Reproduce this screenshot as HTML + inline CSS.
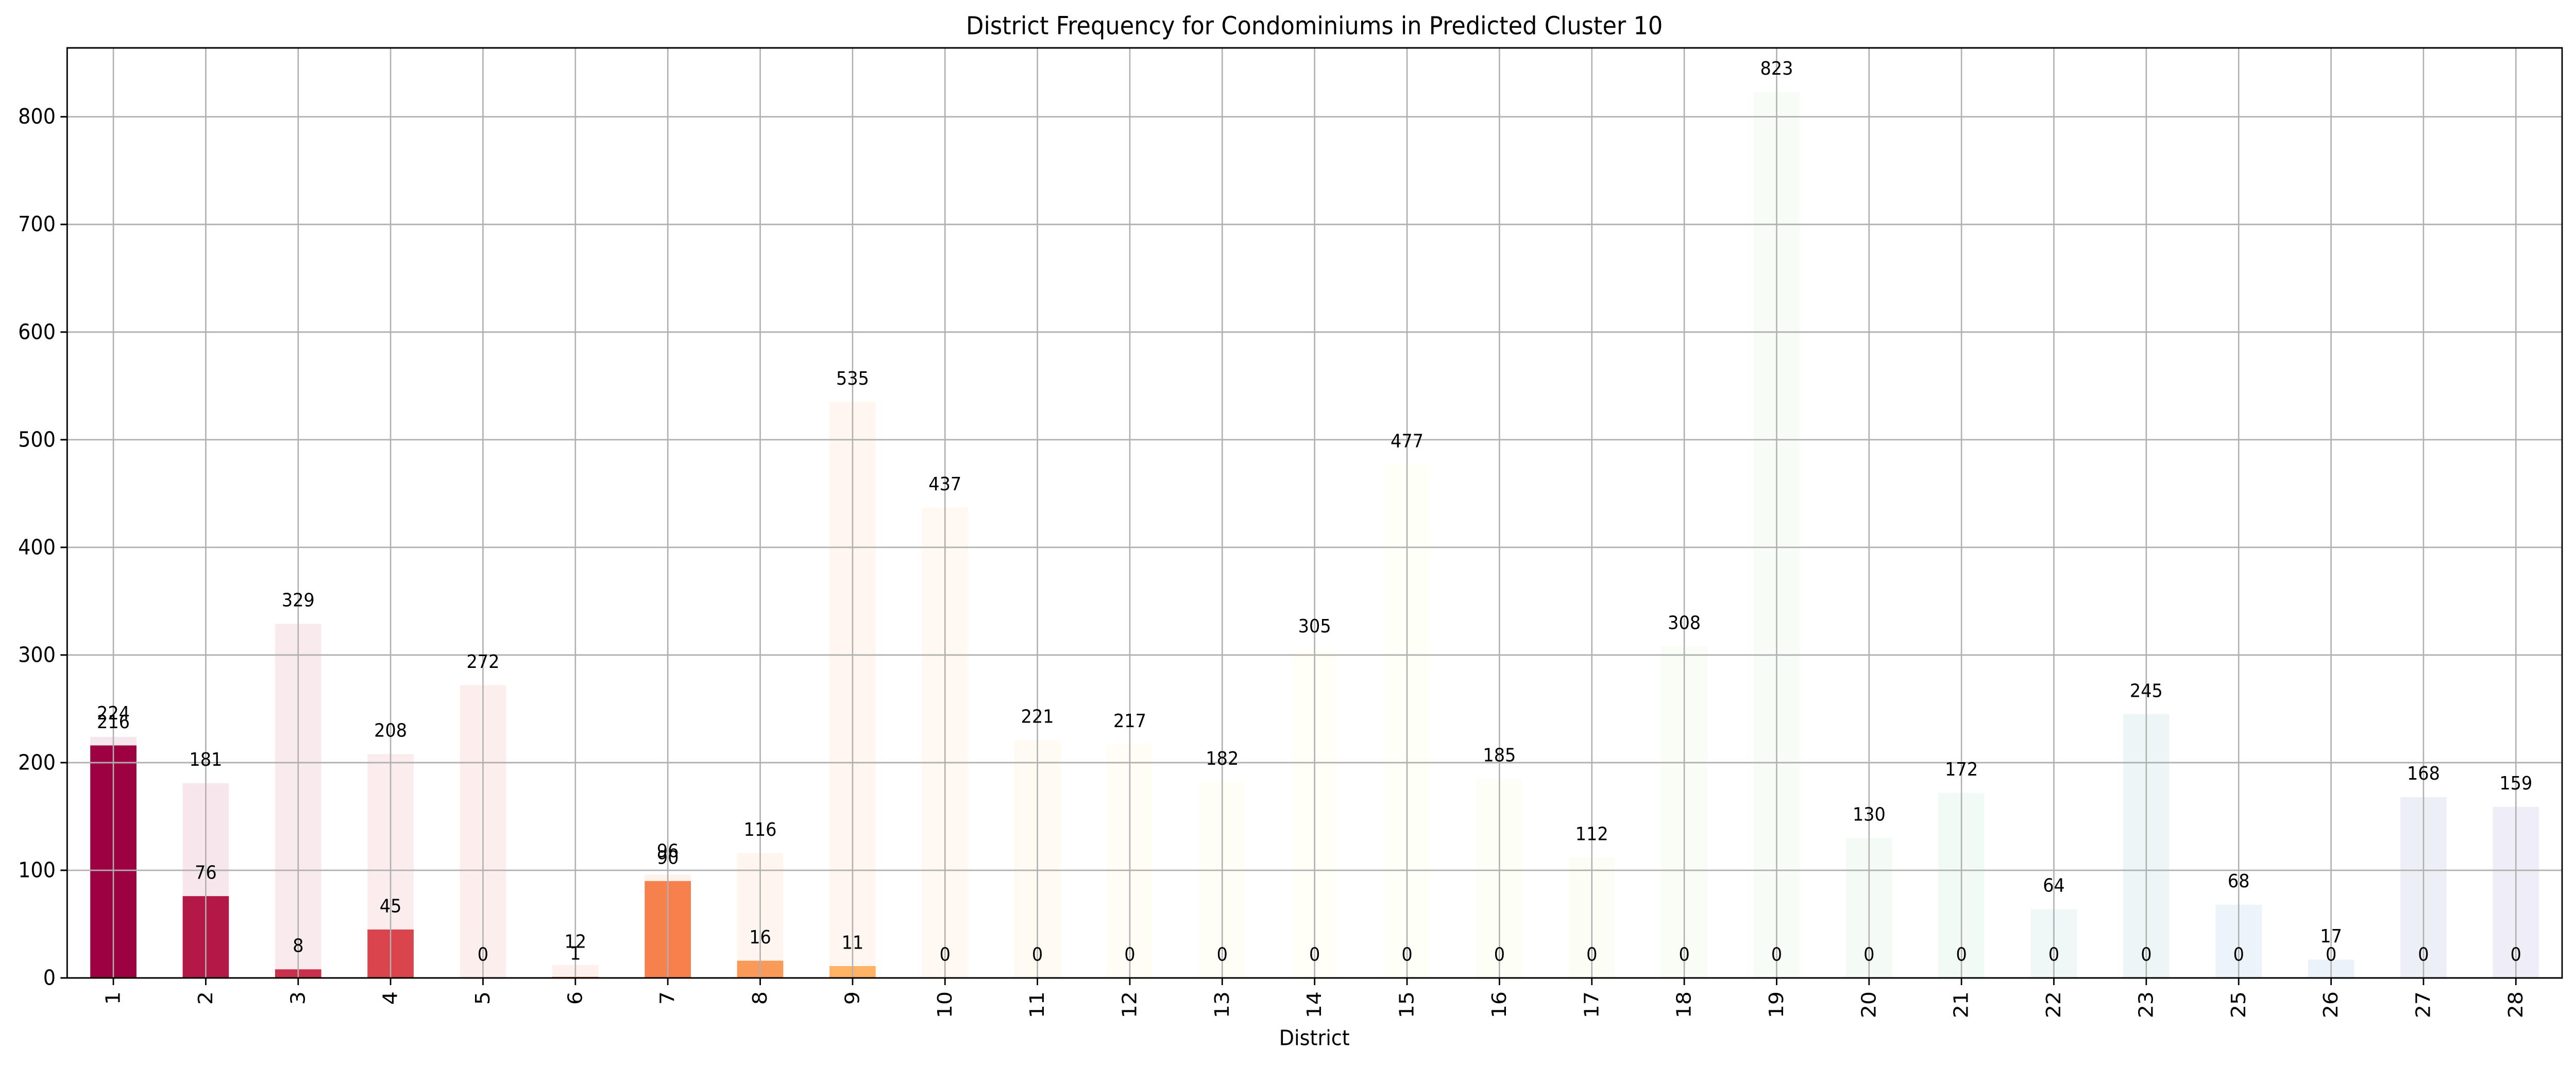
<!DOCTYPE html>
<html><head><meta charset="utf-8"><style>
html,body{margin:0;padding:0;background:#fff;width:100vw;height:100vh;overflow:hidden;}
svg{display:block;width:100vw;height:100vh;font-family:"DejaVu Sans","Liberation Sans",sans-serif;}
</style></head><body>
<svg id="chart" viewBox="0 0 5370 2070" preserveAspectRatio="none" xmlns="http://www.w3.org/2000/svg">
<rect width="5370" height="2070" fill="#fff"/>
<text x="2740" y="50" font-size="48" text-anchor="middle" dominant-baseline="central">District Frequency for Condominiums in Predicted Cluster 10</text>
<text x="2740" y="2016" font-size="41" text-anchor="middle" dominant-baseline="central">District</text>
<g id="bg"></g><g id="fg"></g><g id="grid"></g><g id="labels"></g><g id="axes"></g>
</svg>
<script>
const categories = ["1","2","3","4","5","6","7","8","9","10","11","12","13","14","15","16","17","18","19","20","21","22","23","25","26","27","28"];
const totalValues = [224,181,329,208,272,12,96,116,535,437,221,217,182,305,477,185,112,308,823,130,172,64,245,68,17,168,159];
const clusterValues = [216,76,8,45,0,1,90,16,11,0,0,0,0,0,0,0,0,0,0,0,0,0,0,0,0,0,0];
const yTicks = [0,100,200,300,400,500,600,700,800];

const L=140,R=5341,T=93,B=1899,YMAX=864;
const n=categories.length, step=(R-L)/n;
const xPos=i=>L+step*(i+0.5);
const yPos=v=>B-(B-T)*v/YMAX;
const NS="http://www.w3.org/2000/svg";
const spectral=[[158,1,66],[213,62,79],[244,109,67],[253,174,97],[254,224,139],[255,255,191],[230,245,152],[171,221,164],[102,194,165],[50,136,189],[94,79,162]];
function cmap(t){const p=t*10,i=Math.min(9,Math.floor(p)),f=p-i;const a=spectral[i],b=spectral[i+1];return a.map((c,k)=>Math.round(c+(b[k]-c)*f));}
function mk(tag,attrs,parent){const e=document.createElementNS(NS,tag);for(const k in attrs)e.setAttribute(k,attrs[k]);document.getElementById(parent).appendChild(e);return e;}
const bw=step*0.5;
categories.forEach((c,i)=>{
  const col=cmap(i/(n-1));
  const rgb=`rgb(${col[0]},${col[1]},${col[2]})`;
  const b=mk('rect',{x:xPos(i)-bw/2,y:yPos(totalValues[i]),width:bw,height:B-yPos(totalValues[i]),fill:rgb,'fill-opacity':0.1},'bg');
  
  
  const f=mk('rect',{x:xPos(i)-bw/2,y:yPos(clusterValues[i]),width:bw,height:B-yPos(clusterValues[i]),fill:rgb},'fg');
  
  
  const t1=mk('text',{x:xPos(i),y:yPos(totalValues[i])-45,'font-size':36,'text-anchor':'middle','dominant-baseline':'central'},'labels');
  t1.textContent=totalValues[i];
  
  
  const t2=mk('text',{x:xPos(i),y:yPos(clusterValues[i])-45,'font-size':36,'text-anchor':'middle','dominant-baseline':'central'},'labels');
  t2.textContent=clusterValues[i];
  
  
  const g=mk('line',{x1:xPos(i),x2:xPos(i),y1:T,y2:B,stroke:'#b0b0b0','stroke-width':2.8},'grid');
  
  
  const tk=mk('line',{x1:xPos(i),x2:xPos(i),y1:B,y2:B+14,stroke:'#000','stroke-width':3},'axes');
  
  
  const tl=mk('text',{x:0,y:0,'font-size':41,'text-anchor':'end','dominant-baseline':'central',transform:`translate(${xPos(i)},${B+26}) rotate(-90)`},'axes');
  tl.textContent=c;
  
  
});
yTicks.forEach(v=>{
  const g=mk('line',{x1:L,x2:R,y1:yPos(v),y2:yPos(v),stroke:'#b0b0b0','stroke-width':2.8},'grid');
  
  
  const tk=mk('line',{x1:L-14,x2:L,y1:yPos(v),y2:yPos(v),stroke:'#000','stroke-width':3},'axes');
  
  
  const tl=mk('text',{x:L-24,y:yPos(v),'font-size':41,'text-anchor':'end','dominant-baseline':'central'},'axes');
  tl.textContent=v;
  
  
});
const frame=mk('rect',{x:L,y:T,width:R-L,height:B-T,fill:'none',stroke:'#000','stroke-width':3},'axes');


</script>
</body></html>
